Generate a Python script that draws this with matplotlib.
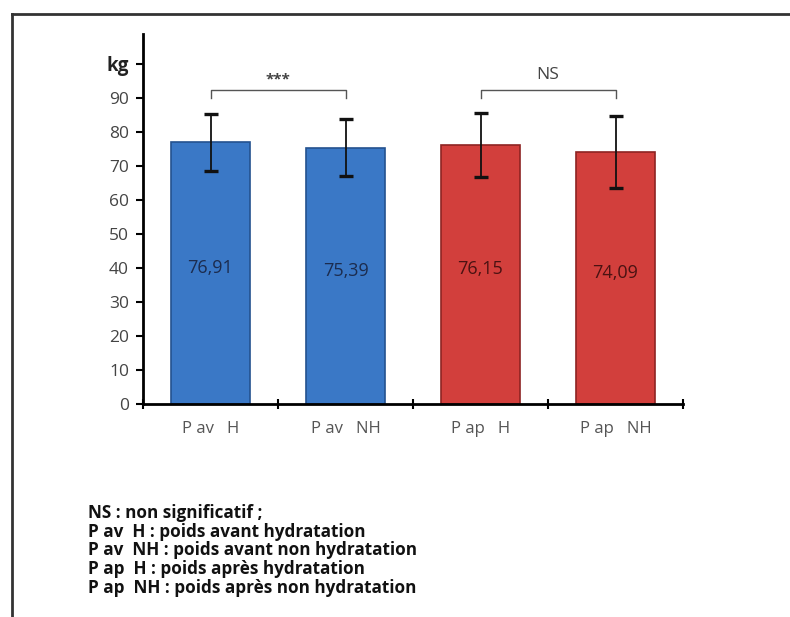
import numpy as np
import matplotlib.pyplot as plt
from matplotlib.lines import Line2D

# donnees
categories = ['P av   H', 'P av   NH', 'P ap   H', 'P ap   NH']
poids = [76.91, 75.39, 76.15, 74.09]
erreurs = [8.3, 8.3, 9.3, 10.7]
labels_valeurs = ['76,91', '75,39', '76,15', '74,09']
couleurs = ['#3a78c6', '#3a78c6', '#d23f3c', '#d23f3c']
bords = ['#24528f', '#24528f', '#8e2422', '#8e2422']
couleurs_txt = ['#1c2c4e', '#1c2c4e', '#4a1212', '#4a1212']
comparaisons = [(0, 1, '***'), (2, 3, 'NS')]
yticks = [0, 10, 20, 30, 40, 50, 60, 70, 80, 90, 100]
legende = ['NS : non significatif ;',
           'P av  H : poids avant hydratation',
           'P av  NH : poids avant non hydratation',
           'P ap  H : poids après hydratation',
           'P ap  NH : poids après non hydratation']

plt.rcParams['font.family'] = ['Open Sans', 'DejaVu Sans']

fig = plt.figure(figsize=(7.9, 6.17), dpi=100)
ax = fig.add_axes([143 / 790, 1 - 404 / 617, (683 - 143) / 790, (404 - 34) / 617])

x = np.arange(len(categories))
ax.bar(x, poids, width=0.59, color=couleurs, edgecolor=bords, linewidth=1.2, zorder=2)
ax.errorbar(x, poids, yerr=erreurs, fmt='none', ecolor='#111111', elinewidth=1.3,
            capsize=5, capthick=2.4, zorder=3)

for i in range(len(poids)):
    ax.text(x[i], poids[i] / 2 + 1.5, labels_valeurs[i], ha='center', va='center',
            fontsize=13, color=couleurs_txt[i])

# crochets de comparaison
for a, b, txt in comparaisons:
    ax.plot([x[a], x[a], x[b], x[b]], [90, 92.3, 92.3, 90], color='#555555', lw=1, zorder=1)
    if txt == '***':
        ax.text((x[a] + x[b]) / 2, 93.5, txt, ha='center', va='bottom', fontsize=11,
                color='#444444', fontweight='bold')
    else:
        ax.text((x[a] + x[b]) / 2, 94.5, txt, ha='center', va='bottom', fontsize=12.5,
                color='#444444')

ax.set_xlim(-0.5, 3.5)
ax.set_ylim(0, 108.8)
ax.set_yticks(yticks)
ax.set_yticklabels([str(v) for v in yticks[:-1]] + ['kg'])
ax.set_xticks(np.arange(-0.5, 4, 1))
ax.set_xticklabels([])
for i, c in enumerate(categories):
    ax.text(x[i], -5.0, c, ha='center', va='top', fontsize=12, color='#555555')

ax.tick_params(axis='y', direction='out', length=5, width=1.5, labelsize=12.5,
               labelcolor='#444444', pad=5)
ax.tick_params(axis='x', direction='inout', length=7, width=1.5)
lbl = ax.get_yticklabels()[-1]
lbl.set_fontweight('bold')
lbl.set_color('#222222')
lbl.set_fontsize(13.5)

for s in ['top', 'right']:
    ax.spines[s].set_visible(False)
ax.spines['left'].set_linewidth(2)
ax.spines['bottom'].set_linewidth(2)

# cadre
fig.add_artist(Line2D([12 / 790, 1], [1 - 14 / 617, 1 - 14 / 617], color='#333333', lw=2))
fig.add_artist(Line2D([12 / 790, 12 / 790], [0, 1 - 14 / 617], color='#333333', lw=2))

# legende
ys = [513, 532, 550, 569, 588]
for t, yy in zip(legende, ys):
    fig.text(88 / 790, 1 - yy / 617, t, ha='left', va='center', fontsize=12.3,
             fontweight='bold', color='#111111')

plt.savefig('out.png', dpi=100)
